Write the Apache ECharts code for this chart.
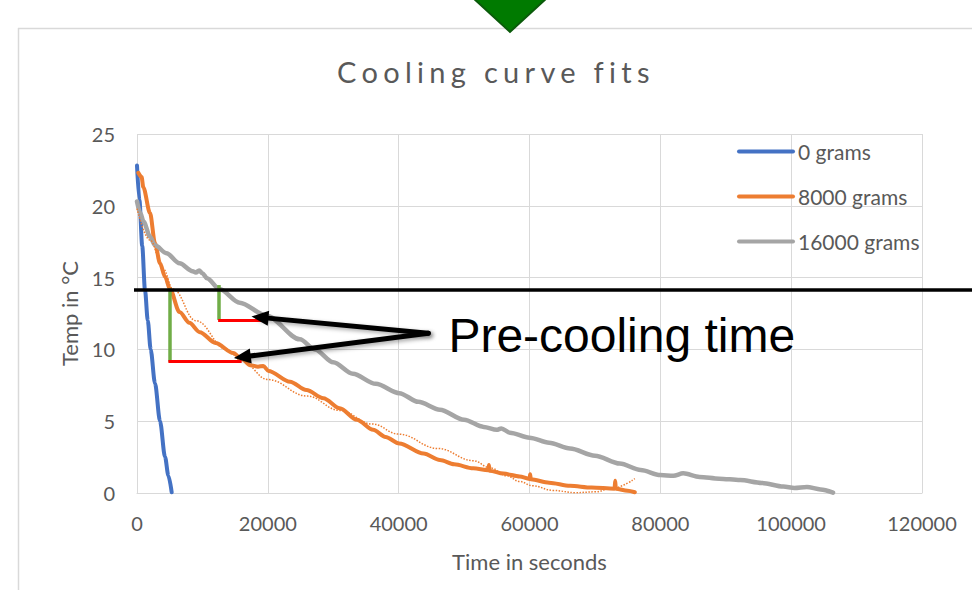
<!DOCTYPE html>
<html>
<head>
<meta charset="utf-8">
<title>Cooling curve fits</title>
<script src="https://cdn.jsdelivr.net/npm/echarts@6.0.0/dist/echarts.min.js"></script>
<style>
  html, body { margin: 0; padding: 0; background: #fff; }
  #main { width: 972px; height: 590px; }
</style>
</head>
<body>
<div id="main"></div>
<script>
var titleText = 'Cooling curve fits';
var seriesNames = ['0 grams', '8000 grams', '16000 grams'];

// [time in s, temp in °C]
var grams0 = [
  [0, 22.8], [370, 20.4], [800, 17.2], [1220, 14.14], [1650, 12.0], [2090, 10.0],
  [2750, 7.64], [3520, 5.0], [4280, 2.53], [4800, 1.2], [5300, 0.05]
];
var grams8000 = [
  [200, 22.3], [700, 22.0], [960, 21.3], [1990, 19.5], [2750, 17.4], [3520, 16.0],
  [4280, 15.06], [5040, 14.2], [6500, 12.6], [8000, 11.85], [9600, 11.2], [12000, 10.45],
  [14700, 9.75], [16000, 9.35], [17300, 8.9], [18500, 8.8], [19300, 8.85], [20100, 8.5],
  [23400, 7.75], [25900, 7.17], [28500, 6.6], [31000, 5.9], [33600, 5.1], [36100, 4.4],
  [38000, 3.9], [40100, 3.45], [43800, 2.75], [46300, 2.3], [48500, 2.0], [51400, 1.72],
  [53700, 1.58], [53800, 1.95], [53900, 1.55], [56000, 1.35], [58500, 1.15], [60000, 0.98],
  [60100, 1.3], [60200, 0.95], [63000, 0.72], [66200, 0.5], [69500, 0.38], [73000, 0.3],
  [73100, 0.85], [73200, 0.3], [75000, 0.15], [76100, 0.05]
];
var grams16000 = [
  [0, 20.3], [500, 19.5], [1000, 18.9], [2000, 17.85], [2750, 17.25], [4500, 16.7],
  [6500, 16.0], [8500, 15.45], [9000, 15.35], [9500, 15.5], [10000, 15.3], [10700, 14.95],
  [12600, 14.2], [15700, 13.25], [19800, 12.35], [24900, 10.7], [27200, 10.0], [30000, 9.1],
  [33000, 8.3], [36500, 7.6], [40100, 6.95], [43000, 6.35], [46300, 5.8], [50000, 5.1],
  [53000, 4.6], [55000, 4.4], [55700, 4.5], [57000, 4.2], [60000, 3.85], [63000, 3.5],
  [66200, 3.1], [70000, 2.6], [73800, 2.05], [77000, 1.6], [80000, 1.25], [82000, 1.2],
  [83500, 1.37], [86000, 1.12], [89000, 1.0], [92200, 0.9], [95500, 0.7], [98800, 0.45],
  [100500, 0.35], [102400, 0.42], [104500, 0.25], [106400, 0.03]
];
// dotted polynomial fit of the 8000 grams curve
var fit8000 = [
  [0, 19.8], [2000, 17.6], [4000, 15.6], [5500, 14.2], [9000, 12.0], [13700, 10.0],
  [16000, 9.2], [20000, 7.9], [26000, 6.75], [31000, 5.75], [36000, 4.8], [40000, 4.1],
  [46000, 3.1], [51400, 2.25], [54000, 1.75], [56500, 1.2], [58500, 0.8], [60500, 0.5],
  [63600, 0.18], [67000, 0.02], [70000, 0.08], [72800, 0.35], [76100, 1.0]
];

// annotations, in data units
var threshold = 14.14;
var greenA = [[5040, 14.25], [5040, 9.14]];
var redA = [[4800, 9.14], [16000, 9.14]];
var greenB = [[12530, 14.48], [12530, 12.05]];
var redB = [[12400, 12.05], [19820, 12.05]];
var arrowTail = [44530, 11.12];
var arrowTips = [[18800, 12.23], [16100, 9.47]];
var noteText = 'Pre-cooling time';
var noteAt = [47600, 11.0];

var grey = '#595959';
var font = 'Lato, "Open Sans", sans-serif';

var chart = echarts.init(document.getElementById('main'), null, { renderer: 'svg' });

function seg(a, b, color, width) {
  return [
    { coord: a, symbol: 'none', lineStyle: { color: color, width: width, type: 'solid' } },
    { coord: b, symbol: 'none' }
  ];
}
function arrow(tip) {
  return [
    { coord: arrowTail, symbol: 'none',
      lineStyle: { color: '#000', width: 5, type: 'solid', cap: 'round',
        shadowColor: 'rgba(0,0,0,0.35)', shadowBlur: 4, shadowOffsetX: 2, shadowOffsetY: 2 } },
    { coord: tip, symbol: 'triangle', symbolSize: [15, 17] }
  ];
}

function line(name, data, color, width) {
  return {
    name: name, type: 'line', data: data,
    symbol: 'none', showSymbol: false,
    smooth: 0.3, smoothMonotone: 'x',
    lineStyle: { color: color, width: width, cap: 'round' },
    itemStyle: { color: color, opacity: 0 },
    emphasis: { disabled: true }
  };
}

var option = {
  animation: false,
  title: {
    text: titleText, left: 496, top: 57, textAlign: 'center', padding: 0,
    textStyle: { fontFamily: font, fontSize: 29, fontWeight: 'normal', color: grey }
  },
  legend: {
    data: seriesNames, orient: 'vertical', left: 737, top: 141, padding: 0,
    itemWidth: 54, itemHeight: 20, itemGap: 24,
    itemStyle: { opacity: 0 },
    lineStyle: { width: 4, cap: 'round' },
    textStyle: { fontFamily: font, fontSize: 21, color: grey, lineHeight: 20 }
  },
  grid: { left: 137, right: 50, top: 134, bottom: 97 },
  xAxis: {
    type: 'value', min: 0, max: 120000, interval: 20000,
    name: 'Time in seconds', nameLocation: 'middle', nameGap: 57,
    nameTextStyle: { fontFamily: font, fontSize: 22, color: grey },
    axisLine: { show: true, lineStyle: { color: '#d9d9d9', width: 1 } },
    axisTick: { show: false },
    axisLabel: { margin: 20, fontFamily: font, fontSize: 20, color: grey,
      formatter: function (v) { return String(v); } },
    splitLine: { show: true, lineStyle: { color: '#d9d9d9', width: 1 } }
  },
  yAxis: {
    type: 'value', min: 0, max: 25, interval: 5,
    name: 'Temp in °C', nameLocation: 'middle', nameGap: 56,
    nameTextStyle: { fontFamily: font, fontSize: 22, color: grey },
    axisLine: { show: false },
    axisTick: { show: false },
    axisLabel: { margin: 22, fontFamily: font, fontSize: 20, color: grey },
    splitLine: { show: true, lineStyle: { color: '#d9d9d9', width: 1 } }
  },
  series: [
    line(seriesNames[0], grams0, '#4472C4', 4),
    line(seriesNames[1], grams8000, '#ED7D31', 4),
    line(seriesNames[2], grams16000, '#A5A5A5', 4.5),
    {
      name: 'Poly. (8000 grams)', type: 'line', data: fit8000,
      symbol: 'none', showSymbol: false, smooth: 0.4, smoothMonotone: 'x',
      lineStyle: { color: '#ED7D31', width: 1.5, type: 'dotted' },
      emphasis: { disabled: true }, z: 4,
      markLine: {
        silent: true, symbol: ['none', 'none'],
        label: { show: false }, emphasis: { disabled: true },
        data: [
          seg(greenA[0], greenA[1], '#70AD47', 3.5),
          seg(redA[0], redA[1], '#FF0000', 3),
          seg(greenB[0], greenB[1], '#70AD47', 3.5),
          seg(redB[0], redB[1], '#FF0000', 3),
          arrow(arrowTips[0]),
          arrow(arrowTips[1])
        ]
      }
    }
  ]
};

chart.setOption(option);

var toPx = function (pt) { return chart.convertToPixel({ gridIndex: 0 }, pt); };
var yLine = toPx([0, threshold])[1];
var xStart = toPx([0, 0])[0];
var notePx = toPx(noteAt);

chart.setOption({
  graphic: [
    { type: 'line', silent: true, shape: { x1: 18.5, y1: 28, x2: 18.5, y2: 590 },
      style: { stroke: '#d9d9d9', lineWidth: 1.5 } },
    { type: 'line', silent: true, shape: { x1: 18, y1: 28.5, x2: 972, y2: 28.5 },
      style: { stroke: '#d9d9d9', lineWidth: 1.5 } },
    { type: 'polygon', silent: true, shape: { points: [[472, -3], [548, -3], [510, 32]] },
      style: { fill: '#007A00', stroke: '#0B5A0B', lineWidth: 2 } },
    { type: 'line', silent: true, z: 20,
      shape: { x1: xStart - 3, y1: yLine, x2: 972, y2: yLine },
      style: { stroke: '#000', lineWidth: 3.5 } },
    { type: 'text', silent: true, z: 20, x: notePx[0], y: notePx[1],
      style: { text: noteText, fontFamily: '"Liberation Sans", Arial, sans-serif', fontSize: 48,
        fill: '#000', align: 'left', verticalAlign: 'middle' } }
  ]
});

// Excel's title is letter-spaced; SVG text lets us do the same
function spaceTitle() {
  var nodes = document.querySelectorAll('#main text');
  for (var i = 0; i < nodes.length; i++) {
    if (nodes[i].textContent === titleText) {
      nodes[i].setAttribute('letter-spacing', '5.3');
      nodes[i].style.letterSpacing = '5.3px';
    }
  }
}
chart.on('finished', spaceTitle);
spaceTitle();
</script>
</body>
</html>
